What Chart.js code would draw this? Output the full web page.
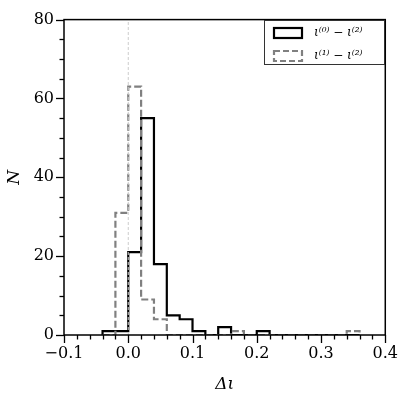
<!DOCTYPE html>
<html><head><meta charset="utf-8">
<script src="https://cdn.jsdelivr.net/npm/chart.js@4/dist/chart.umd.min.js"></script>
<style>html,body{margin:0;padding:0;background:#fff}#w{width:407px;height:399px}</style>
</head><body><div id="w"><canvas id="c" width="407" height="399"></canvas></div>
<script>
// Data
const binEdges = [-0.04,-0.02,0.00,0.02,0.04,0.06,0.08,0.10,0.12,0.14,0.16,0.18,0.20,0.22,0.24,0.26,0.28,0.30,0.32,0.34,0.36];
const counts0 = [1,1,21,55,18,5,4,1,0,2,0,0,1,0,0,0,0,0,0,0];
const counts1 = [0,31,63,9,4,0,0,0,0,0,1,0,0,0,0,0,0,0,0,1];
const seriesLabels = ['ι⁽⁰⁾ − ι⁽²⁾','ι⁽¹⁾ − ι⁽²⁾'];
const xTicks = [-0.1,0.0,0.1,0.2,0.3,0.4];
const yTicks = [0,20,40,60,80];
const refLineX = [0,0];
const refLineY = [0,80];

function stepPoints(edges, vals){
  const pts=[{x:edges[0],y:0}];
  for(let i=0;i<vals.length;i++) pts.push({x:edges[i],y:vals[i]});
  pts.push({x:edges[edges.length-1],y:0});
  return pts;
}
const SERIF = '"DejaVu Serif", "Liberation Serif", serif';

const tickPlugin = {
  id:'mplTicks',
  afterDraw(chart){
    const {ctx, chartArea:a, scales:{x,y}} = chart;
    ctx.save();
    ctx.strokeStyle='#000';
    ctx.lineWidth=1.3;
    for(let v=-0.1; v<=0.4001; v+=0.02){
      const px = x.getPixelForValue(v);
      const major = Math.abs(v*10 - Math.round(v*10))<1e-6;
      ctx.beginPath(); ctx.moveTo(Math.round(px)+0.5,a.bottom); ctx.lineTo(Math.round(px)+0.5,a.bottom+(major?8:4.5)); ctx.stroke();
    }
    for(let v=0; v<=80; v+=5){
      const py = y.getPixelForValue(v);
      const major = v%20===0;
      ctx.beginPath(); ctx.moveTo(a.left,Math.round(py)+0.5); ctx.lineTo(a.left-(major?8:4.5),Math.round(py)+0.5); ctx.stroke();
    }
    ctx.lineWidth=1.5;
    ctx.strokeRect(a.left,a.top,a.right-a.left,a.bottom-a.top);
    // legend
    const lx=264, ly=20, lw=120, lh=44;
    ctx.fillStyle='#fff';
    ctx.fillRect(lx,ly,lw,lh);
    ctx.lineWidth=1; ctx.strokeStyle='#333';
    ctx.strokeRect(lx+0.5,ly+0.5,lw,lh);
    ctx.lineWidth=2.2;
    ctx.strokeStyle='#000'; ctx.setLineDash([]);
    ctx.strokeRect(274,28,28,10);
    ctx.strokeStyle='#808080'; ctx.setLineDash([6,3]);
    ctx.strokeRect(274,51,28,10);
    ctx.setLineDash([]);
    ctx.fillStyle='#000';
    ctx.font='italic 12px '+SERIF;
    ctx.textBaseline='middle'; ctx.textAlign='left';
    ctx.fillText(seriesLabels[0],314,33);
    ctx.fillText(seriesLabels[1],314,56);
    ctx.restore();
  }
};

new Chart(document.getElementById('c'),{
  type:'line',
  data:{datasets:[
    {label:'ref',data:refLineX.map((v,i)=>({x:v,y:refLineY[i]})),borderColor:'#cccccc',borderWidth:1,borderDash:[3,2],pointRadius:0},
    {label:seriesLabels[1],data:stepPoints(binEdges,counts1),stepped:'before',borderColor:'#808080',borderWidth:2.2,borderDash:[7,3],pointRadius:0,fill:false},
    {label:seriesLabels[0],data:stepPoints(binEdges,counts0),stepped:'before',borderColor:'#000000',borderWidth:2.2,pointRadius:0,fill:false}
  ]},
  options:{
    responsive:false,animation:false,
    layout:{padding:{top:15,right:19,left:0,bottom:0}},
    plugins:{legend:{display:false},tooltip:{enabled:false}},
    scales:{
      x:{type:'linear',min:-0.1,max:0.4,
        afterBuildTicks:s=>{s.ticks=xTicks.map(v=>({value:v}));},
        afterFit:s=>{s.height=64;},
        grid:{display:false,drawTicks:false},border:{display:false},
        ticks:{padding:9,color:'#000',font:{family:SERIF,size:16},callback:v=>v.toFixed(1).replace('-','−'),maxRotation:0},
        title:{display:true,text:'Δι',color:'#000',font:{family:SERIF,size:17,style:'italic'},padding:{top:0}}
      },
      y:{min:0,max:80,
        afterBuildTicks:s=>{s.ticks=yTicks.map(v=>({value:v}));},
        afterFit:s=>{s.width=64;},
        grid:{display:false,drawTicks:false},border:{display:false},
        ticks:{padding:10,color:'#000',font:{family:SERIF,size:16}},
        title:{display:true,text:'N',color:'#000',font:{family:SERIF,size:17,style:'italic'},padding:{bottom:4}}
      }
    }
  },
  plugins:[tickPlugin]
});
</script></body></html>
